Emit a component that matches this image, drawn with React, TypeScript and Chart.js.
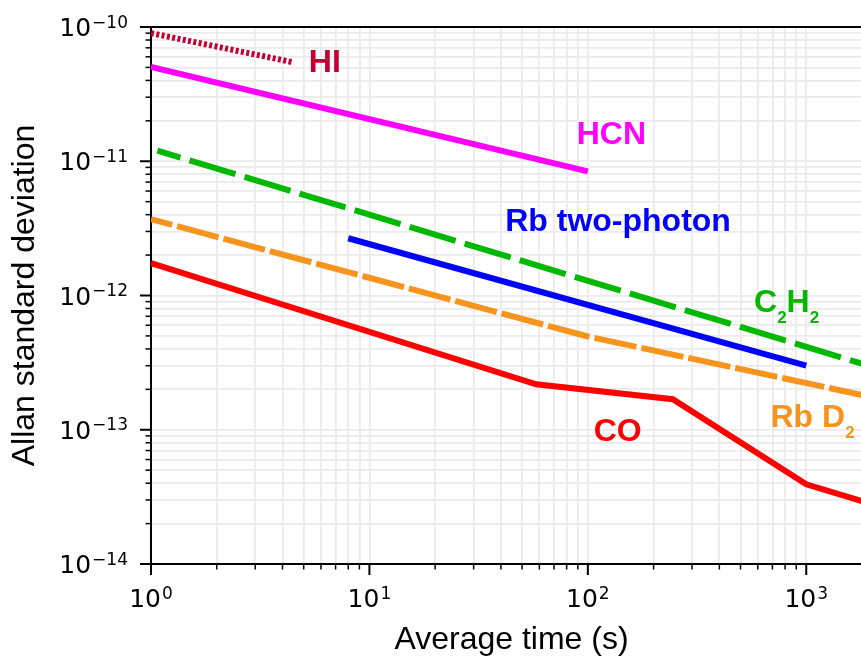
import React, { useEffect, useRef } from 'react';
import { Chart, registerables } from 'chart.js';

Chart.register(...registerables);

// ---- axis ranges ----
const X_MIN = 1;
const X_MAX = 2000;
const Y_MIN = 1e-14;
const Y_MAX = 1e-10;

// ---- tick definitions ----
const X_TICK_DECADES = [0, 1, 2, 3];
const Y_TICK_DECADES = [-14, -13, -12, -11, -10];
const MINOR_STEPS = [1, 2, 3, 4, 5, 6, 7, 8, 9];

// ---- series (average time in s, Allan deviation) ----
const HI_X = [1, 4.5];
const HI_Y = [9.0e-11, 5.45e-11];

const HCN_X = [1, 100];
const HCN_Y = [5.05e-11, 8.4e-12];

const C2H2_X = [1.07, 2000];
const C2H2_Y = [1.2e-11, 2.95e-13];

const RB2P_X = [8, 1000];
const RB2P_Y = [2.67e-12, 3.0e-13];

const RBD2_X = [1, 100, 2000];
const RBD2_Y = [3.7e-12, 4.95e-13, 1.75e-13];

const CO_X = [1, 58, 245, 1000, 2000];
const CO_Y = [1.74e-12, 2.18e-13, 1.69e-13, 3.92e-14, 2.79e-14];

// ---- colours ----
const HI_COLOR = '#c20034';
const HCN_COLOR = '#ff00ff';
const C2H2_COLOR = '#00b800';
const RB2P_COLOR = '#0000ff';
const RBD2_COLOR = '#f7941d';
const CO_COLOR = '#ff0000';

// ---- in-plot labels ("_" marks a subscript character) ----
const LABEL_TEXTS = ['HI', 'HCN', 'Rb two-photon', 'C_2H_2', 'Rb D_2', 'CO'];
const LABEL_X = [5.28, 88.9, 41.85, 576.6, 685.8, 106.3];
const LABEL_Y = [4.65e-11, 1.344e-11, 3.02e-12, 7.49e-13, 1.054e-13, 8.24e-14];
const LABEL_COLORS = [HI_COLOR, HCN_COLOR, RB2P_COLOR, C2H2_COLOR, RBD2_COLOR, CO_COLOR];

const X_TITLE = 'Average time (s)';
const Y_TITLE = 'Allan standard deviation';

function isPow10(v: number) {
  const e = Math.log10(v);
  return Math.abs(e - Math.round(e)) < 1e-9;
}

function tickParts(v: number) {
  if (!isPow10(v)) return null;
  const e = Math.round(Math.log10(v));
  return { base: '10', exp: String(e).replace('-', '\u2212') };
}

function tickValues(decades: number[], min: number, max: number) {
  const out: number[] = [];
  decades.forEach((d) => {
    MINOR_STEPS.forEach((m) => {
      const v = m * Math.pow(10, d);
      if (v >= min * (1 - 1e-9) && v <= max * (1 + 1e-9)) out.push(v);
    });
  });
  return out;
}

function pts(xs: number[], ys: number[]) {
  return xs.map((x, i) => ({ x, y: ys[i] }));
}

function segments(s: string) {
  const out: { t: string; sub: boolean }[] = [];
  let i = 0;
  while (i < s.length) {
    if (s[i] === '_') {
      out.push({ t: s[i + 1], sub: true });
      i += 2;
    } else {
      let j = i;
      while (j < s.length && s[j] !== '_') j++;
      out.push({ t: s.slice(i, j), sub: false });
      i = j;
    }
  }
  return out;
}

const LABEL_FONT = 'bold 32px "Liberation Sans", Arial, sans-serif';
const SUB_FONT = 'bold 17px "Liberation Sans", Arial, sans-serif';
const TICK_BASE_FONT = '25px "DejaVu Sans", sans-serif';
const TICK_EXP_FONT = '17px "DejaVu Sans", sans-serif';

const decorPlugin = {
  id: 'decor',
  afterDraw(chart: any) {
    const { ctx, chartArea, scales } = chart;
    const xs = scales.x;
    const ys = scales.y;
    ctx.save();
    ctx.strokeStyle = '#000';
    ctx.fillStyle = '#000';
    ctx.lineCap = 'butt';
    ctx.textBaseline = 'alphabetic';

    const labelWidth = (p: { base: string; exp: string }) => {
      ctx.font = TICK_BASE_FONT;
      const wb = ctx.measureText(p.base).width;
      ctx.font = TICK_EXP_FONT;
      const we = ctx.measureText(p.exp).width;
      return { wb, we };
    };
    const drawLabel = (p: { base: string; exp: string }, left: number, baseline: number, wb: number) => {
      ctx.textAlign = 'left';
      ctx.font = TICK_BASE_FONT;
      ctx.fillText(p.base, left, baseline);
      ctx.font = TICK_EXP_FONT;
      ctx.fillText(p.exp, left + wb + 1, baseline - 8.5);
    };

    xs.ticks.forEach((t: any) => {
      const px = xs.getPixelForValue(t.value);
      const major = isPow10(t.value);
      ctx.lineWidth = major ? 2 : 1.5;
      ctx.beginPath();
      ctx.moveTo(px, chartArea.bottom);
      ctx.lineTo(px, chartArea.bottom + (major ? 11 : 5.5));
      ctx.stroke();
      const parts = tickParts(t.value);
      if (parts) {
        const { wb, we } = labelWidth(parts);
        drawLabel(parts, px - (wb + we + 1) / 2, chartArea.bottom + 43, wb);
      }
    });
    ys.ticks.forEach((t: any) => {
      const py = ys.getPixelForValue(t.value);
      const major = isPow10(t.value);
      ctx.lineWidth = major ? 2 : 1.5;
      ctx.beginPath();
      ctx.moveTo(chartArea.left, py);
      ctx.lineTo(chartArea.left - (major ? 11 : 5.5), py);
      ctx.stroke();
      const parts = tickParts(t.value);
      if (parts) {
        const { wb, we } = labelWidth(parts);
        drawLabel(parts, chartArea.left - 23 - (wb + we + 1), py + 9.2, wb);
      }
    });
    // top spine
    ctx.lineWidth = 2;
    ctx.beginPath();
    ctx.moveTo(chartArea.left - 1, chartArea.top);
    ctx.lineTo(chartArea.right + 1, chartArea.top);
    ctx.stroke();

    // in-plot labels
    ctx.textAlign = 'left';
    LABEL_TEXTS.forEach((txt, i) => {
      let x = xs.getPixelForValue(LABEL_X[i]);
      const y = ys.getPixelForValue(LABEL_Y[i]);
      ctx.fillStyle = LABEL_COLORS[i];
      segments(txt).forEach((seg) => {
        ctx.font = seg.sub ? SUB_FONT : LABEL_FONT;
        ctx.fillText(seg.t, x, seg.sub ? y + 11 : y);
        x += ctx.measureText(seg.t).width;
      });
    });
    ctx.restore();
  },
};

const GRID_COLOR = '#ebebeb';
const TITLE_FONT = { family: '"Liberation Sans", Arial, sans-serif', size: 32, lineHeight: 1 };

const zeroPad = (s: any) => {
  s.paddingTop = 0;
  s.paddingBottom = 0;
  s.paddingLeft = 0;
  s.paddingRight = 0;
};

export default function App() {
  const ref = useRef<HTMLCanvasElement | null>(null);

  useEffect(() => {
    if (!ref.current) return;
    const line = (data: any, color: string, dash: number[], offset = 0) => ({
      data,
      borderColor: color,
      backgroundColor: color,
      borderWidth: 6,
      borderDash: dash,
      borderDashOffset: offset,
      borderCapStyle: 'butt',
      pointRadius: 0,
      pointHoverRadius: 0,
      tension: 0,
      fill: false,
    });
    const chart = new Chart(ref.current, {
      type: 'line',
      data: {
        datasets: [
          line(pts(HI_X, HI_Y), HI_COLOR, [3, 2.4]),
          line(pts(HCN_X, HCN_Y), HCN_COLOR, []),
          line(pts(C2H2_X, C2H2_Y), C2H2_COLOR, [48, 9.5], 24),
          line(pts(RBD2_X, RBD2_Y), RBD2_COLOR, [43, 5], 21),
          line(pts(RB2P_X, RB2P_Y), RB2P_COLOR, []),
          line(pts(CO_X, CO_Y), CO_COLOR, []),
        ] as any,
      },
      options: {
        animation: false,
        responsive: false,
        events: [],
        layout: { padding: { top: 27, left: 0, right: 0, bottom: 0 } },
        plugins: {
          legend: { display: false },
          tooltip: { enabled: false },
          title: { display: false },
        },
        scales: {
          x: {
            type: 'logarithmic',
            min: X_MIN,
            max: X_MAX,
            afterFit: (s: any) => { s.height = 92; zeroPad(s); },
            afterBuildTicks: (s: any) => {
              s.ticks = tickValues(X_TICK_DECADES, X_MIN, X_MAX).map((v) => ({ value: v }));
            },
            grid: { color: GRID_COLOR, lineWidth: 1.8, drawTicks: false },
            border: { display: true, color: '#000', width: 2 },
            ticks: { display: false, autoSkip: false },
            title: {
              display: true,
              text: X_TITLE,
              color: '#000',
              font: TITLE_FONT,
              padding: { top: 0, bottom: 0 },
            },
          },
          y: {
            type: 'logarithmic',
            min: Y_MIN,
            max: Y_MAX,
            afterFit: (s: any) => { s.width = 151; zeroPad(s); },
            afterBuildTicks: (s: any) => {
              s.ticks = tickValues(Y_TICK_DECADES, Y_MIN, Y_MAX).map((v) => ({ value: v }));
            },
            grid: { color: GRID_COLOR, lineWidth: 1.8, drawTicks: false },
            border: { display: true, color: '#000', width: 2 },
            ticks: { display: false, autoSkip: false },
            title: {
              display: true,
              text: Y_TITLE,
              color: '#000',
              font: TITLE_FONT,
              padding: { top: 9, bottom: 0 },
            },
          },
        },
      } as any,
      plugins: [decorPlugin],
    });
    return () => chart.destroy();
  }, []);

  return (
    <div
      style={{
        position: 'fixed',
        left: 0,
        top: 0,
        width: 861,
        height: 656,
        overflow: 'hidden',
        background: '#fff',
      }}
    >
      <canvas ref={ref} width={872} height={656} style={{ display: 'block' }} />
    </div>
  );
}
